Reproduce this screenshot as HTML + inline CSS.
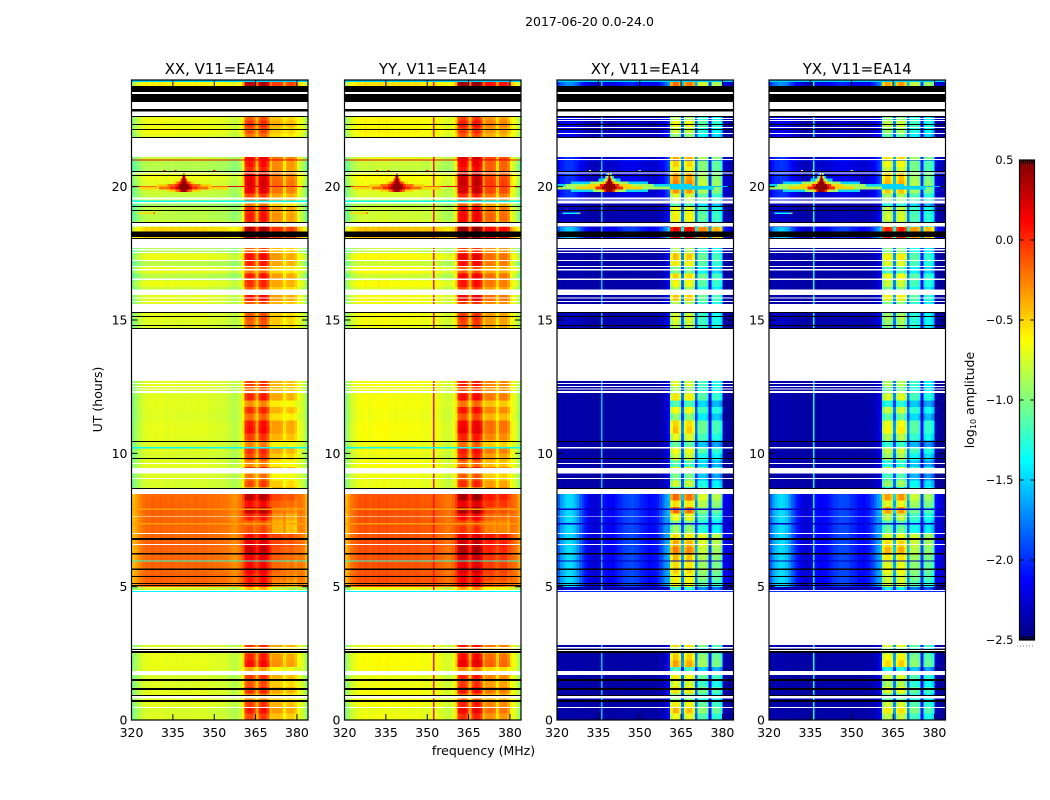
<!DOCTYPE html>
<html lang="en">
<head>
<meta charset="utf-8">
<title>2017-06-20 0.0-24.0</title>
<style>
html,body{margin:0;padding:0;background:#fff;}
svg{display:block;font-family:"DejaVu Sans","Liberation Sans",sans-serif;fill:#000;}
text{font-size:12.5px;}
</style>
</head>
<body>
<svg id="figure" xmlns="http://www.w3.org/2000/svg" width="1050" height="800" viewBox="0 0 1050 800">
  <rect x="0" y="0" width="1050" height="800" fill="#ffffff"/>
  <text x="589.5" y="26" text-anchor="middle">2017-06-20 0.0-24.0</text>
  <text x="483.5" y="755" text-anchor="middle">frequency (MHz)</text>
  <text x="102" y="399.5" text-anchor="middle" transform="rotate(-90 102 399.5)">UT (hours)</text>
  <text x="974" y="400" text-anchor="middle" transform="rotate(-90 974 400)">log<tspan font-size="8" dy="2">10</tspan><tspan dy="-2"> amplitude</tspan></text>
</svg>
<script>
// ---- channel axis: 320..383 MHz, 1 MHz per channel
const channelsMHz = [320,321,322,323,324,325,326,327,328,329,330,331,332,333,334,335,336,337,338,339,340,341,342,343,344,345,346,347,348,349,350,351,352,353,354,355,356,357,358,359,360,361,362,363,364,365,366,367,368,369,370,371,372,373,374,375,376,377,378,379,380,381,382,383];
const xTickLabels = [320,335,350,365,380];
const yTickLabels = [0,5,10,15,20];
const colorbarTickLabels = [0.5,0,-0.5,-1,-1.5,-2,-2.5];
const panelTitles = ["XX, V11=EA14","YY, V11=EA14","XY, V11=EA14","YX, V11=EA14"];

// ---- log10 amplitude spectra, one value per channel
const spectrumXX = [-1.0,-.92,-.85,-.8,-.75,-.72,-.74,-.7,-.72,-.74,-.7,-.73,-.72,-.74,-.71,-.73,-.74,-.72,-.74,-.73,-.72,-.74,-.73,-.71,-.74,-.73,-.72,-.74,-.75,-.74,-.76,-.75,-.77,-.76,-.78,-.8,-.84,-.86,-.82,-.76,-.6,-.12,-.06,-.06,-.16,-.42,-.1,-.02,-.02,-.16,-.47,-.38,-.38,-.38,-.42,-.58,-.46,-.42,-.42,-.5,-.68,-.72,-.8,-.95];
const spectrumYY = [-.98,-.88,-.78,-.74,-.7,-.66,-.68,-.64,-.67,-.69,-.66,-.68,-.64,-.67,-.66,-.64,-.68,-.66,-.69,-.67,-.66,-.68,-.67,-.66,-.69,-.67,-.66,-.68,-.7,-.69,-.7,-.69,-.7,-.7,-.72,-.74,-.76,-.79,-.76,-.72,-.54,-.04,.02,.02,-.08,-.42,-.04,.06,.06,-.06,-.44,-.26,-.24,-.24,-.3,-.52,-.28,-.26,-.26,-.36,-.6,-.7,-.78,-.92];
const spectrumXY = [-2.4,-2.38,-2.4,-2.38,-2.4,-2.38,-2.4,-2.37,-2.4,-2.38,-2.4,-2.39,-2.4,-2.38,-2.4,-2.39,-2.4,-2.38,-2.4,-2.39,-2.4,-2.38,-2.39,-2.4,-2.38,-2.4,-2.39,-2.38,-2.4,-2.38,-2.4,-2.39,-2.38,-2.4,-2.38,-2.39,-2.4,-2.36,-2.35,-2.3,-2.1,-.72,-.5,-.52,-.68,-1.75,-.7,-.55,-.55,-.7,-1.8,-.98,-.95,-.95,-1.05,-2.05,-1.12,-1.05,-1.05,-1.2,-2.3,-2.38,-2.4,-2.4];
const spectrumYX = [-2.4,-2.39,-2.38,-2.4,-2.38,-2.4,-2.38,-2.38,-2.4,-2.39,-2.4,-2.38,-2.4,-2.39,-2.4,-2.38,-2.4,-2.39,-2.38,-2.4,-2.38,-2.4,-2.39,-2.38,-2.4,-2.38,-2.39,-2.4,-2.38,-2.4,-2.39,-2.38,-2.4,-2.38,-2.4,-2.38,-2.38,-2.36,-2.35,-2.3,-2.1,-.85,-.68,-.68,-.82,-1.7,-.8,-.65,-.65,-.82,-1.75,-1.02,-1.0,-1.0,-1.1,-2.05,-1.2,-1.1,-1.12,-1.28,-2.3,-2.38,-2.4,-2.4];
// low-level bandpass lobes in cross hands, per channel
const crossLobe = [.55,.7,.82,.9,.92,.9,.82,.68,.55,.42,.32,.22,.16,.14,.16,.2,.26,.28,.26,.24,.26,.3,.36,.4,.44,.46,.48,.48,.46,.42,.38,.34,.3,.28,.28,.3,.34,.42,.52,.62,.6,0,0,0,0,.1,0,0,0,0,.1,0,0,0,0,.1,0,0,0,0,.2,.22,.18,.15];
// share of each channel following the interference time pattern
const rfiWeight = [0,0,0,0,0,0,0,0,0,0,0,0,0,0,0,0,0,0,0,0,0,0,0,0,0,0,0,0,0,0,0,0,0,0,0,0,0,0,0,0,.2,1,1,1,1,.5,1,1,1,1,.5,1,1,1,1,.5,1,1,1,1,.3,.15,.05,0];

// ---- per 0.25-hour time rows
const rowHours = [0,.25,.5,.75,1,1.25,1.5,1.75,2,2.25,2.5,2.75,3,3.25,3.5,3.75,4,4.25,4.5,4.75,5,5.25,5.5,5.75,6,6.25,6.5,6.75,7,7.25,7.5,7.75,8,8.25,8.5,8.75,9,9.25,9.5,9.75,10,10.25,10.5,10.75,11,11.25,11.5,11.75,12,12.25,12.5,12.75,13,13.25,13.5,13.75,14,14.25,14.5,14.75,15,15.25,15.5,15.75,16,16.25,16.5,16.75,17,17.25,17.5,17.75,18,18.25,18.5,18.75,19,19.25,19.5,19.75,20,20.25,20.5,20.75,21,21.25,21.5,21.75,22,22.25,22.5,22.75,23,23.25,23.5,23.75];
const rfiPattern = [.3,.7,.4,-.2,.5,.2,.4,-.5,.8,.6,0,.5,0,0,0,0,0,0,0,-.4,.1,.1,.3,.2,.4,.7,.5,.2,-.4,-.5,0,.8,.2,.8,-.5,.3,-.1,.6,-.3,.3,.5,-.2,.4,.8,.7,0,.5,-.3,.6,.1,.4,.2,0,0,0,0,0,0,0,.2,.3,-.1,.2,.8,.1,.5,.7,-.1,.6,.8,.2,.6,.8,.8,.3,.4,.3,-.4,0,.7,.8,.7,.2,.4,.6,0,0,0,.3,.5,.2,.4,0,0,0,.8];
const rfiPatternUpper = [.2,.5,.3,0,.4,.1,.3,-.4,.6,.5,-.1,.4,0,0,0,0,0,0,0,-.5,0,.2,.3,.3,.4,.5,.6,.6,-.3,-.3,-.1,.2,.4,.6,.3,.1,-.3,.4,-.2,.1,.4,-.3,.3,.5,.5,-.1,.3,-.2,.4,.2,.3,.1,0,0,0,0,0,0,0,.2,.2,0,.3,.5,.1,.4,.5,0,.4,.5,.2,.5,.7,.7,.2,.3,.2,-.3,.1,.5,.6,.5,.3,.3,.5,0,0,0,.2,.4,.2,.3,0,0,0,.6];
const bgPattern = [.0,-.02,.02,.03,.02,.0,-.02,.03,.04,.03,.02,.0,0,0,0,0,0,0,0,-.02,.01,.02,.0,.01,.0,.01,.02,.0,.0,.01,.0,.02,.01,.0,.01,-.02,.0,.01,.02,-.02,.01,.0,.02,.03,.02,.0,.01,.02,.01,.0,.02,.01,0,0,0,0,0,0,0,.0,.02,.01,.0,.02,-.06,.05,-.1,.04,-.1,.05,-.12,.05,.15,.1,.02,-.05,-.05,-.12,-.02,0,.06,.1,-.08,-.06,0,0,0,0,.05,.02,.02,.05,0,0,0,.05];

// ---- observing regions in hours: start, end, offsets for co and cross hands
const regionStart = [0,4.75,5,8.5,14.6,15.5,17.9,18.4,19.5,21.75,23.7];
const regionEnd = [2.9,5,8.5,12.9,15.5,17.9,18.4,19.5,21.2,23,24];
const regionCoBg = [0,0,.55,0,0,0,.12,-.05,-.05,.03,.08];
const regionCoRfi = [0,-.1,.22,0,-.03,0,.25,.1,.12,-.02,.25];
const regionCrossLobe = [.02,.1,1,.03,.1,.03,.95,.1,.45,.25,.75];
const regionCrossRfi = [-.05,-.2,.12,-.15,-.1,-.15,.5,-.05,.05,-.15,.1];

// ---- flagged time intervals in hours
const flagWhiteStart = [23.475,22.91,22.65,21.11,20.5,19.52,19.36,18.5,18.11,17.7,17.61,17.51,17.21,16.98,16.85,16.5,15.94,15.8,15.68,15.55,15.3,12.71,12.6,12.49,12.4,12.26,9.6,9.25,9.04,8.475,7.61,6.98,6.56,4.84,2.81,2.68,2.59,1.68,0.8,0.45];
const flagWhiteEnd = [23.55,23.175,22.81,21.83,20.53,19.6,19.43,18.64,18.15,18.04,17.66,17.55,17.25,17.03,16.91,16.56,16.15,15.85,15.71,15.6,15.54,14.66,12.64,12.53,12.44,12.34,9.64,9.45,9.08,8.66,7.64,7.01,6.6,4.88,4.8,2.74,2.63,1.84,0.9,0.49];
const flagBlackStart = [23.55,23.175,22.81,22.61,22.31,22.125,21.825,20.55,20.4,19.24,19.09,18.64,18.11,18.04,15.26,15.11,14.775,14.66,10.425,9.79,8.66,6.75,6.21,5.625,5.36,5.1,5.025,2.63,2.52,1.47,1.125,0.9,0.675];
const flagBlackEnd = [23.775,23.475,22.91,22.65,22.35,22.16,21.86,20.59,20.44,19.275,19.125,18.675,18.32,18.08,15.3,15.15,14.81,14.7,10.46,9.825,8.7,6.825,6.26,5.68,5.4,5.14,5.06,2.67,2.59,1.54,1.2,0.94,0.75];
const crossWhiteStart = [22.54,22.46,22.2,21.98,21.0,19.43,10.18];
const crossWhiteEnd = [22.58,22.5,22.24,22.01,21.04,19.48,10.23];

// ---- full-width single-integration lines
const lineHour = [23.93,20.98,19.98,19.43,10.18,7.88,7.33,5.95,4.8,21.8];
const lineThick = [.07,.04,.05,.05,.05,.05,.05,.04,.04,.04];
const lineCo = [-1.5,.2,.2,-1.35,-1.35,-.35,-.35,-1.25,-1.4,-.5];
const lineCross = [-1.5,-2.0,-1.55,-1.6,-1.6,-2.3,-2.3,-2.35,-2.0,-2.2];

// ---- narrow vertical interference per panel
const vertFreq = [null,352,336,336];
const vertLevel = [0,.08,-1.55,-1.35];

// ---- burst near 339 MHz: for each time row the half-width (MHz) of five contours
const burstFreq = 339;
const burstHours = [20.4,20.3,20.2,20.1,20.0,19.9,19.8];
const burstCoLevels = [-.5,-.2,0,.2,.45];
const burstCrossLevels = [-1.5,-.9,-.5,0,.45];
const burstCoA = [.4,.7,1.5,4,10,16,6];
const burstCoB = [.3,.6,1.2,2.6,6,9,3];
const burstCoC = [.2,.5,1,1.8,3.2,5,1.8];
const burstCoD = [.2,.4,.6,1.2,2.2,3,1.2];
const burstCoE = [.2,.3,.4,.7,1.4,2,.8];
const burstCrossA = [1,1.6,4,14,30,38,14];
const burstCrossB = [.5,1,2.2,7,16,22,6];
const burstCrossC = [.3,.6,1,3,8,12,3];
const burstCrossD = [.2,.4,.7,1.5,3.5,5,2];
const burstCrossE = [.2,.3,.5,1,2,2.6,1.2];

// ---- small isolated spots
const spotFreq = [327,325,332,336,350];
const spotHour = [19,19,20.6,20.6,20.6];
const spotHalf = [1.5,3,.4,.4,.4];
const spotCo = [-.1,-.5,.1,.1,.1];
const spotCross = [-.4,-1.4,-.6,-1,-1];

const SVGNS = "http://www.w3.org/2000/svg";
const figure = document.getElementById("figure");
const panelLeft = [131.5,344.5,557,769];
const panelWidth = 176.5;
const plotTop = 80, plotBottom = 720;

function hourToY(h){ return plotBottom - (h/24)*(plotBottom-plotTop); }
function freqToX(i,f){ return panelLeft[i] + ((f-320)/64)*panelWidth; }
function jetColor(v){
  const t = Math.max(0,Math.min(1,(v+2.5)/3));
  const c = x => Math.round(255*Math.max(0,Math.min(1,x)));
  const r = c(Math.min(4*t-1.5,-4*t+4.5));
  const g = c(Math.min(4*t-.5,-4*t+3.5));
  const b = c(Math.min(4*t+.5,-4*t+2.5));
  return "rgb("+r+","+g+","+b+")";
}
function addBox(parent,x,y,w,h,fill){
  const el = document.createElementNS(SVGNS,"rect");
  el.setAttribute("x",x);
  el.setAttribute("y",y);
  el.setAttribute("width",w);
  el.setAttribute("height",h);
  el.setAttribute("fill",fill);
  parent.appendChild(el);
  return el;
}
function addLine(parent,x1,y1,x2,y2){
  const el = document.createElementNS(SVGNS,"line");
  el.setAttribute("x1",x1);
  el.setAttribute("y1",y1);
  el.setAttribute("x2",x2);
  el.setAttribute("y2",y2);
  el.setAttribute("stroke","#000");
  el.setAttribute("stroke-width","1");
  parent.appendChild(el);
  return el;
}
function addText(parent,x,y,anchor,str,size){
  const el = document.createElementNS(SVGNS,"text");
  el.setAttribute("x",x);
  el.setAttribute("y",y);
  el.setAttribute("text-anchor",anchor);
  if(size) el.setAttribute("style","font-size:"+size+"px");
  el.textContent = str;
  parent.appendChild(el);
  return el;
}
function regionOf(h){
  for(let k=0;k<regionStart.length;k++){ if(h>=regionStart[k] && h<regionEnd[k]) return k; }
  return -1;
}
const spectra = [spectrumXX,spectrumYY,spectrumXY,spectrumYX];
const rowStep = 0.25;

for(let p=0;p<4;p++){
  const cross = p>=2;
  const g = document.createElementNS(SVGNS,"g");
  
  
  figure.appendChild(g);

  const cells = document.createElementNS(SVGNS,"g");
  
  
  cells.setAttribute("shape-rendering","crispEdges");
  g.appendChild(cells);

  const x0 = panelLeft[p];
  const xEnd = x0+panelWidth;

  rowHours.forEach(function(h,r){
    const reg = regionOf(h+rowStep/2);
    if(reg<0) return;
    const top = hourToY(h+rowStep), bot = hourToY(h);
    channelsMHz.forEach(function(f,c){
      const w = rfiWeight[c];
      const pat = c>=51 ? rfiPatternUpper[r] : rfiPattern[r];
      let v = spectra[p][c];
      if(cross){
        v += regionCrossLobe[reg]*crossLobe[c]*(1-w);
        v += w*(regionCrossRfi[reg]+pat*.6-.25);
      } else {
        v += (1-w)*(regionCoBg[reg]+bgPattern[r]);
        v += w*(regionCoRfi[reg]+pat*.35-.12);
      }
      const x1 = freqToX(p,f), x2 = freqToX(p,f+1);
      const cell = addBox(cells,x1.toFixed(2),top.toFixed(2),(x2-x1+.3).toFixed(2),(bot-top+.3).toFixed(2),jetColor(v));
      
      
    });
  });

  const over = document.createElementNS(SVGNS,"g");
  
  
  over.setAttribute("shape-rendering","crispEdges");
  g.appendChild(over);

  // vertical interference
  if(vertFreq[p]!==null){
    regionStart.forEach(function(s,k){
      const vl = addBox(over,freqToX(p,vertFreq[p]).toFixed(2),hourToY(regionEnd[k]),1.5,hourToY(s)-hourToY(regionEnd[k]),jetColor(vertLevel[p]));
      
      
    });
  }
  // full width lines
  lineHour.forEach(function(h,i){
    const ty = hourToY(h+lineThick[i]);
    const ln = addBox(over,x0,ty,panelWidth,Math.max(1,hourToY(h)-ty),jetColor(cross?lineCross[i]:lineCo[i]));
    
    
  });
  // burst contours
  const levels = cross?burstCrossLevels:burstCoLevels;
  const widths = cross?[burstCrossA,burstCrossB,burstCrossC,burstCrossD,burstCrossE]:[burstCoA,burstCoB,burstCoC,burstCoD,burstCoE];
  levels.forEach(function(lv,li){
    burstHours.forEach(function(h,i){
      const half = widths[li][i];
      const bLeft = Math.max(x0,freqToX(p,burstFreq-half));
      const bRight = Math.min(xEnd,freqToX(p,burstFreq+half));
      const ty = hourToY(h+.1);
      const b = addBox(over,bLeft.toFixed(2),ty.toFixed(2),(bRight-bLeft).toFixed(2),(hourToY(h)-ty+.2).toFixed(2),jetColor(lv));
      
      
    });
  });
  // spots
  spotFreq.forEach(function(f,i){
    const sLeft = freqToX(p,f-spotHalf[i]);
    const sRight = freqToX(p,f+spotHalf[i]);
    const s = addBox(over,sLeft.toFixed(2),hourToY(spotHour[i]+.03).toFixed(2),(sRight-sLeft).toFixed(2),1.5,jetColor(cross?spotCross[i]:spotCo[i]));
    
    
  });
  // flags
  if(cross){
    crossWhiteStart.forEach(function(s,i){
      const ty = hourToY(crossWhiteEnd[i]);
      const m = addBox(over,x0,ty.toFixed(2),panelWidth,Math.max(1,hourToY(s)-ty).toFixed(2),"#fff");
      
      
    });
  }
  flagWhiteStart.forEach(function(s,i){
    const ty = hourToY(flagWhiteEnd[i]);
    const m = addBox(over,x0,ty.toFixed(2),panelWidth,(hourToY(s)-ty).toFixed(2),"#fff");
    
    
  });
  flagBlackStart.forEach(function(s,i){
    const ty = hourToY(flagBlackEnd[i]);
    const m = addBox(over,x0,ty.toFixed(2),panelWidth,(hourToY(s)-ty).toFixed(2),"#000");
    
    
  });

  // ticks and labels
  const axes = document.createElementNS(SVGNS,"g");
  
  
  g.appendChild(axes);
  xTickLabels.forEach(function(f){
    const tx = freqToX(p,f);
    const t1 = addLine(axes,tx,plotBottom,tx,plotBottom-6);
    
    
    const t2 = addLine(axes,tx,plotTop,tx,plotTop+6);
    
    
    const lb = addText(axes,tx,737,"middle",String(f));
    
    
  });
  yTickLabels.forEach(function(h){
    const ty = hourToY(h);
    const t1 = addLine(axes,x0,ty,x0+6,ty);
    
    
    const t2 = addLine(axes,xEnd,ty,xEnd-6,ty);
    
    
    const lb = addText(axes,x0-4,ty+4.5,"end",String(h));
    
    
  });
  const frame = document.createElementNS(SVGNS,"rect");
  frame.setAttribute("x",x0);
  frame.setAttribute("y",plotTop);
  frame.setAttribute("width",panelWidth);
  frame.setAttribute("height",plotBottom-plotTop);
  frame.setAttribute("fill","none");
  frame.setAttribute("stroke","#000");
  frame.setAttribute("stroke-width","1.2");
  
  
  axes.appendChild(frame);
  const ttl = addText(axes,x0+panelWidth/2,74,"middle",panelTitles[p],14.9);
  
  
}

// ---- colorbar
const cbLeft = 1019.5, cbRight = 1034.5, cbTop = 160, cbBottom = 640;
function levelToY(v){ return cbBottom - ((v+2.5)/3)*(cbBottom-cbTop); }
const cb = document.createElementNS(SVGNS,"g");


figure.appendChild(cb);
const cbSteps = document.createElementNS(SVGNS,"g");
cbSteps.setAttribute("shape-rendering","crispEdges");
cb.appendChild(cbSteps);
for(let i=0;i<256;i++){
  const v0 = -2.5+3*i/256, v1 = -2.5+3*(i+1)/256;
  const s = addBox(cbSteps,cbLeft,levelToY(v1).toFixed(2),cbRight-cbLeft,(levelToY(v0)-levelToY(v1)+.4).toFixed(2),jetColor((v0+v1)/2));
  
  
}
colorbarTickLabels.forEach(function(v){
  const ty = levelToY(v);
  const t1 = addLine(cb,cbLeft,ty,cbLeft+4,ty);
  
  
  const t2 = addLine(cb,cbRight,ty,cbRight-4,ty);
  
  
  const str = v.toFixed(1).replace("-","\u2212");
  const lb = addText(cb,1013.5,ty+4,"end",str,11.5);
  
  
});
[1021.5,1023.5,1025.5,1027.5,1029.5,1031.5,1033].forEach(function(tx){
  const a = addLine(cb,tx,cbTop,tx,cbTop+4);
  
  
  const b = addLine(cb,tx,cbBottom,tx,cbBottom-4);
  
  
});
const cbFrame = document.createElementNS(SVGNS,"rect");
cbFrame.setAttribute("x",cbLeft);
cbFrame.setAttribute("y",cbTop);
cbFrame.setAttribute("width",cbRight-cbLeft);
cbFrame.setAttribute("height",cbBottom-cbTop);
cbFrame.setAttribute("fill","none");
cbFrame.setAttribute("stroke","#000");
cbFrame.setAttribute("stroke-width","1.2");


cb.appendChild(cbFrame);
const cbDots = addLine(cb,1017,646,1034.5,646);
cbDots.setAttribute("stroke","#777");
cbDots.setAttribute("stroke-dasharray","1 2");


</script>
</body>
</html>
